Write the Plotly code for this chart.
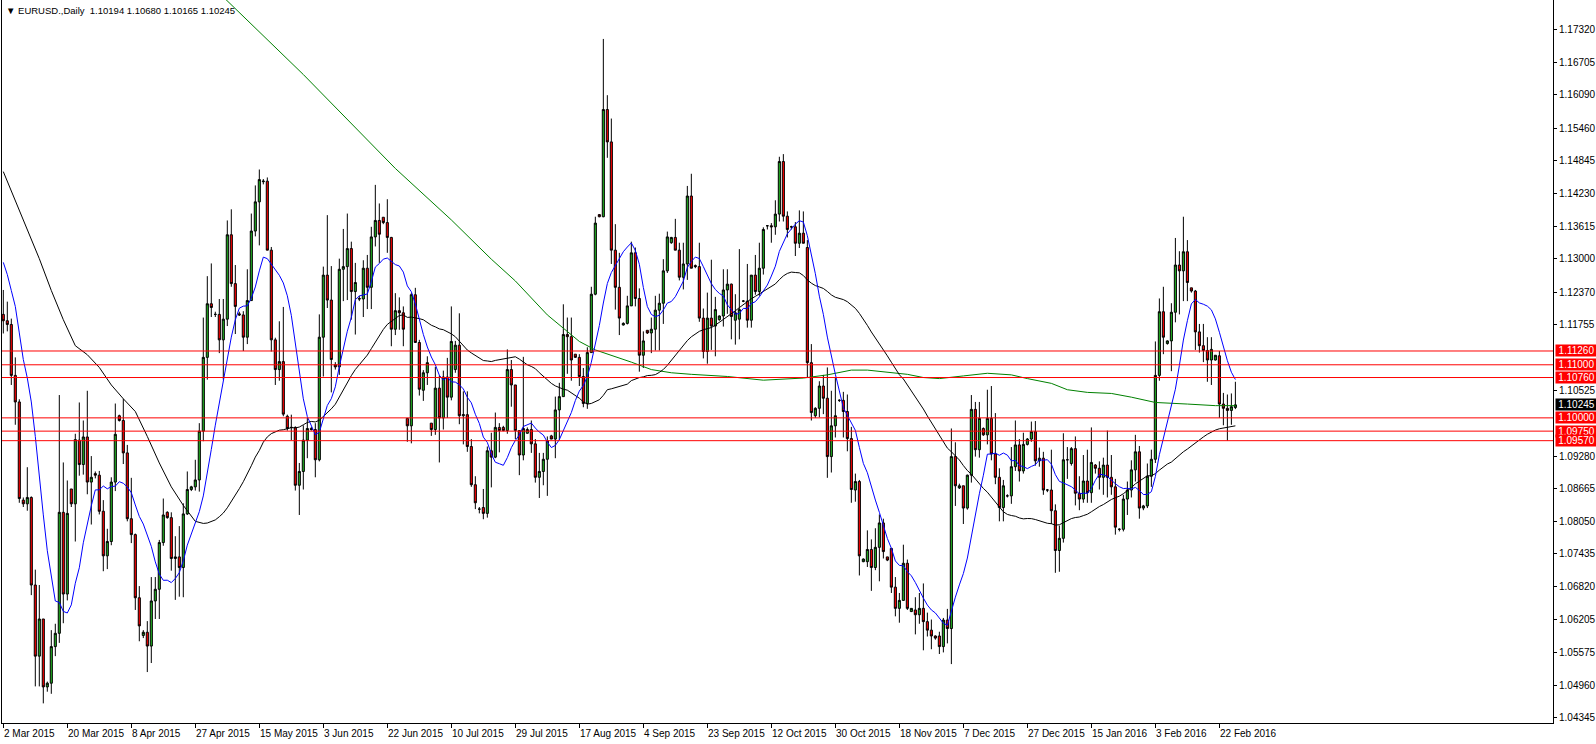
import plotly.graph_objects as go
import pandas as pd

# ---------------- data (EURUSD daily, bar index 0 = 2 Mar 2015) ----------------
opens = [
    1.1195, 1.1183, 1.1176, 1.1080, 1.1030, 1.0845, 1.0838, 1.0850, 1.0685, 1.0551,
    1.0621, 1.0493, 1.0500, 1.0569, 1.0594, 1.0822, 1.0668, 1.0866, 1.0838, 1.0958,
    1.0912, 1.0964, 1.0879, 1.0895, 1.0892, 1.0824, 1.0740, 1.0767, 1.0879, 1.1004,
    1.0995, 1.0934, 1.0810, 1.0780, 1.0661, 1.0590, 1.0596, 1.0570, 1.0655, 1.0677,
    1.0765, 1.0822, 1.0812, 1.0735, 1.0738, 1.0718, 1.0819, 1.0865, 1.0870, 1.0883,
    1.0975, 1.1114, 1.1215, 1.1195, 1.1195, 1.1147, 1.1186, 1.1345, 1.1253, 1.1196,
    1.1194, 1.1152, 1.1221, 1.1352, 1.1407, 1.1445, 1.1446, 1.1316, 1.1147, 1.1091,
    1.1106, 1.1003, 1.0982, 1.0982, 1.0873, 1.0899, 1.0958, 1.0980, 1.0978, 1.0921,
    1.1152, 1.1269, 1.1222, 1.1100, 1.1096, 1.1280, 1.1285, 1.1319, 1.1238, 1.1225,
    1.1224, 1.1282, 1.1246, 1.1341, 1.1372, 1.1378, 1.1368, 1.1340, 1.1167, 1.1202,
    1.1198, 1.0999, 1.0985, 1.1232, 1.1142, 1.1052, 1.1085, 1.0990, 1.0978, 1.1056,
    1.1000, 1.1077, 1.1039, 1.1091, 1.1137, 1.1004, 1.1006, 1.0946, 1.0874, 1.0828,
    1.0831, 1.0820, 1.0938, 1.0926, 1.0982, 1.0982, 1.0976, 1.1091, 1.1062, 1.0976,
    1.0930, 1.0971, 1.0978, 1.0951, 1.0888, 1.0899, 1.0922, 1.0966, 1.0960, 1.1015,
    1.1040, 1.1157, 1.1153, 1.1120, 1.1114, 1.1078, 1.1027, 1.1123, 1.1233, 1.1383,
    1.1379, 1.1581, 1.1520, 1.1316, 1.1246, 1.1175, 1.1178, 1.1211, 1.1311, 1.1225,
    1.1118, 1.1165, 1.1160, 1.1167, 1.1203, 1.1216, 1.1277, 1.1330, 1.1340, 1.1316,
    1.1265, 1.1290, 1.1418, 1.1287, 1.1285, 1.1188, 1.1125, 1.1188, 1.1173, 1.1185,
    1.1192, 1.1241, 1.1252, 1.1184, 1.1186, 1.1220, 1.1220, 1.1184, 1.1269, 1.1238,
    1.1282, 1.1362, 1.1362, 1.1360, 1.1384, 1.1483, 1.1380, 1.1360, 1.1360, 1.1329,
    1.1348, 1.1321, 1.1104, 1.1004, 1.1018, 1.1060, 1.1037, 1.0927, 1.0985, 1.1033,
    1.1033, 1.1012, 1.0961, 1.0864, 1.0880, 1.0729, 1.0729, 1.0752, 1.0718, 1.0756,
    1.0802, 1.0738, 1.0754, 1.0681, 1.0641, 1.0656, 1.0726, 1.0635, 1.0638, 1.0629,
    1.0641, 1.0616, 1.0600, 1.0589, 1.0589, 1.0569, 1.0619, 1.0603, 1.0927, 1.0868,
    1.0872, 1.0830, 1.0892, 1.1016, 1.0940, 1.0980, 1.0968, 1.0999, 1.0932, 1.0888,
    1.0831, 1.0853, 1.0853, 1.0908, 1.0949, 1.0900, 1.0950, 1.0960, 1.0974, 1.0919,
    1.0924, 1.0864, 1.0864, 1.0825, 1.0750, 1.0773, 1.0921, 1.0914, 1.0942, 1.0858,
    1.0847, 1.0881, 1.0859, 1.0911, 1.0905, 1.0888, 1.0911, 1.0888, 1.0870, 1.0790,
    1.0790, 1.0847, 1.0864, 1.0902, 1.0936, 1.0830, 1.0834, 1.0890, 1.0922, 1.1080,
    1.1200, 1.1140, 1.1145, 1.1199, 1.1288, 1.1277, 1.1313, 1.1245, 1.1239, 1.1162,
    1.1136, 1.1127, 1.1109, 1.1109, 1.1117, 1.1026, 1.1018, 1.1014, 1.10194,
]
highs = [
    1.1241, 1.1219, 1.1187, 1.1114, 1.1035, 1.0850, 1.0907, 1.0852, 1.0714, 1.0685,
    1.0621, 1.0503, 1.0600, 1.0612, 1.1043, 1.0916, 1.0882, 1.0866, 1.0970, 1.1029,
    1.0995, 1.1051, 1.0928, 1.0899, 1.0900, 1.0845, 1.0791, 1.0888, 1.1027, 1.1006,
    1.1036, 1.0949, 1.0887, 1.0782, 1.0683, 1.0600, 1.0617, 1.0700, 1.0700, 1.0770,
    1.0848, 1.0824, 1.0822, 1.0777, 1.0796, 1.0839, 1.0899, 1.0872, 1.0921, 1.0990,
    1.1189, 1.1267, 1.1291, 1.1200, 1.1224, 1.1224, 1.1372, 1.1393, 1.1288, 1.1200,
    1.1201, 1.1280, 1.1385, 1.1438, 1.1468, 1.1450, 1.1453, 1.1322, 1.1151, 1.1182,
    1.1209, 1.1006, 1.1006, 1.0984, 1.0915, 1.0986, 1.1000, 1.0983, 1.0990, 1.1195,
    1.1285, 1.1382, 1.1286, 1.1105, 1.1300, 1.1356, 1.1385, 1.1332, 1.1292, 1.1230,
    1.1297, 1.1307, 1.1360, 1.1439, 1.1404, 1.1378, 1.1412, 1.1341, 1.1235, 1.1227,
    1.1210, 1.0999, 1.1235, 1.1245, 1.1147, 1.1090, 1.1116, 1.0990, 1.1096, 1.1080,
    1.1089, 1.1113, 1.1210, 1.1145, 1.1197, 1.1050, 1.1050, 1.0960, 1.0890, 1.0832,
    1.0866, 1.0946, 1.0972, 1.1010, 1.0990, 1.0985, 1.1129, 1.1109, 1.1062, 1.0976,
    1.1115, 1.0982, 1.0995, 1.0960, 1.0934, 1.0934, 1.0965, 1.0968, 1.1040, 1.1066,
    1.1214, 1.1189, 1.1189, 1.1120, 1.1120, 1.1094, 1.1133, 1.1247, 1.1379, 1.1384,
    1.1714, 1.1608, 1.1564, 1.1365, 1.1311, 1.1180, 1.1230, 1.1332, 1.1321, 1.1244,
    1.1163, 1.1165, 1.1189, 1.1230, 1.1234, 1.1299, 1.1351, 1.1341, 1.1375, 1.1330,
    1.1330, 1.1437, 1.1460, 1.1289, 1.1330, 1.1206, 1.1236, 1.1298, 1.1228, 1.1193,
    1.1280, 1.1280, 1.1253, 1.1233, 1.1318, 1.1222, 1.1290, 1.1269, 1.1307, 1.1330,
    1.1359, 1.1363, 1.1367, 1.1410, 1.1492, 1.1497, 1.1389, 1.1362, 1.1369, 1.1391,
    1.1389, 1.1335, 1.1139, 1.1020, 1.1069, 1.1081, 1.1095, 1.1051, 1.1075, 1.1035,
    1.1049, 1.1044, 1.0983, 1.0895, 1.0883, 1.0735, 1.0788, 1.0771, 1.0792, 1.0818,
    1.0810, 1.0738, 1.0754, 1.0700, 1.0670, 1.0761, 1.0733, 1.0641, 1.0662, 1.0670,
    1.0688, 1.0633, 1.0620, 1.0590, 1.0597, 1.0623, 1.0640, 1.0980, 1.0954, 1.0876,
    1.0872, 1.0893, 1.1043, 1.1030, 1.1030, 1.0982, 1.1053, 1.1060, 1.1009, 1.0905,
    1.0883, 1.0856, 1.0945, 1.0995, 1.0960, 1.0972, 1.0962, 1.0993, 1.0994, 1.0944,
    1.0936, 1.0866, 1.0940, 1.0837, 1.0797, 1.0971, 1.0945, 1.0945, 1.0965, 1.0890,
    1.0930, 1.0940, 1.0982, 1.0913, 1.0918, 1.0925, 1.0976, 1.0930, 1.0885, 1.0792,
    1.0855, 1.0880, 1.0920, 1.0968, 1.0947, 1.0836, 1.0914, 1.0940, 1.1144, 1.1225,
    1.1247, 1.1146, 1.1216, 1.1339, 1.1314, 1.1379, 1.1335, 1.1245, 1.1241, 1.1177,
    1.1177, 1.1152, 1.1152, 1.1118, 1.1126, 1.1047, 1.1044, 1.1046, 1.10680,
]
lows = [
    1.1159, 1.1163, 1.1062, 1.0987, 1.0840, 1.0832, 1.0825, 1.0666, 1.0494, 1.0494,
    1.0462, 1.0484, 1.0480, 1.0551, 1.0576, 1.0613, 1.0656, 1.0832, 1.0767, 1.0891,
    1.0893, 1.0856, 1.0799, 1.0886, 1.0818, 1.0711, 1.0715, 1.0760, 1.0862, 1.0993,
    1.0913, 1.0805, 1.0764, 1.0638, 1.0579, 1.0585, 1.0521, 1.0538, 1.0621, 1.0621,
    1.0759, 1.0810, 1.0712, 1.0657, 1.0663, 1.0662, 1.0817, 1.0862, 1.0863, 1.0861,
    1.0956, 1.1072, 1.1190, 1.1190, 1.1122, 1.1072, 1.1173, 1.1247, 1.1158, 1.1192,
    1.1126, 1.1139, 1.1221, 1.1342, 1.1325, 1.1440, 1.1316, 1.1125, 1.1062, 1.1070,
    1.1003, 1.0976, 1.0958, 1.0863, 1.0817, 1.0865, 1.0924, 1.0976, 1.0888, 1.0918,
    1.1078, 1.1207, 1.1048, 1.1091, 1.1081, 1.1220, 1.1222, 1.1185, 1.1157, 1.1220,
    1.1190, 1.1205, 1.1205, 1.1323, 1.1292, 1.1365, 1.1311, 1.1135, 1.1156, 1.1166,
    1.1135, 1.0955, 1.0952, 1.1142, 1.1042, 1.1032, 1.1062, 1.0966, 1.0968, 1.0916,
    1.0978, 1.1000, 1.1033, 1.1085, 1.0988, 1.0950, 1.0936, 1.0870, 1.0828, 1.0820,
    1.0809, 1.0812, 1.0869, 1.0924, 1.0935, 1.0975, 1.0970, 1.1021, 1.0960, 1.0892,
    1.0920, 1.0970, 1.0934, 1.0878, 1.0849, 1.0873, 1.0853, 1.0960, 1.0924, 1.0958,
    1.1040, 1.1083, 1.1070, 1.1113, 1.1060, 1.1020, 1.1017, 1.1123, 1.1231, 1.1378,
    1.1378, 1.1490, 1.1290, 1.1204, 1.1156, 1.1174, 1.1176, 1.1211, 1.1210, 1.1087,
    1.1094, 1.1158, 1.1122, 1.1127, 1.1127, 1.1177, 1.1273, 1.1328, 1.1316, 1.1259,
    1.1242, 1.1260, 1.1282, 1.1282, 1.1181, 1.1112, 1.1102, 1.1128, 1.1116, 1.1183,
    1.1172, 1.1196, 1.1148, 1.1138, 1.1148, 1.1218, 1.1170, 1.1170, 1.1232, 1.1230,
    1.1270, 1.1355, 1.1330, 1.1345, 1.1370, 1.1370, 1.1340, 1.1355, 1.1305, 1.1320,
    1.1329, 1.1075, 1.0995, 1.1000, 1.1001, 1.1007, 1.0887, 1.0897, 1.0963, 1.1030,
    1.0963, 1.0937, 1.0840, 1.0842, 1.0703, 1.0728, 1.0719, 1.0674, 1.0713, 1.0692,
    1.0735, 1.0730, 1.0670, 1.0626, 1.0614, 1.0656, 1.0638, 1.0634, 1.0592, 1.0612,
    1.0562, 1.0588, 1.0564, 1.0582, 1.0555, 1.0558, 1.0575, 1.0536, 1.0834, 1.0866,
    1.0800, 1.0827, 1.0878, 1.0927, 1.0925, 1.0966, 1.0950, 1.0920, 1.0875, 1.0805,
    1.0805, 1.0850, 1.0838, 1.0900, 1.0880, 1.0895, 1.0948, 1.0955, 1.0910, 1.0908,
    1.0855, 1.0860, 1.0800, 1.0708, 1.0710, 1.0765, 1.0885, 1.0910, 1.0835, 1.0826,
    1.0840, 1.0840, 1.0840, 1.0895, 1.0865, 1.0855, 1.0850, 1.0855, 1.0780, 1.0786,
    1.0786, 1.0817, 1.0850, 1.0880, 1.0810, 1.0826, 1.0830, 1.0870, 1.0915, 1.1070,
    1.1120, 1.1138, 1.1088, 1.1180, 1.1195, 1.1220, 1.1220, 1.1236, 1.1128, 1.1123,
    1.1105, 1.1068, 1.1062, 1.1108, 1.1000, 1.0986, 1.0957, 1.0987, 1.10165,
]
closes = [
    1.1183, 1.1176, 1.1080, 1.1030, 1.0848, 1.0838, 1.0850, 1.0685, 1.0551, 1.0621,
    1.0493, 1.0500, 1.0569, 1.0594, 1.0822, 1.0668, 1.0820, 1.0838, 1.0959, 1.0912,
    1.0964, 1.0879, 1.0888, 1.0892, 1.0824, 1.0740, 1.0767, 1.0879, 1.0969, 1.0995,
    1.0934, 1.0810, 1.0780, 1.0661, 1.0608, 1.0596, 1.0570, 1.0655, 1.0677, 1.0765,
    1.0817, 1.0812, 1.0735, 1.0738, 1.0718, 1.0819, 1.0865, 1.0870, 1.0883, 1.0975,
    1.1114, 1.1215, 1.1208, 1.1195, 1.1147, 1.1186, 1.1345, 1.1253, 1.1210, 1.1194,
    1.1152, 1.1221, 1.1352, 1.1407, 1.1449, 1.1446, 1.1316, 1.1147, 1.1091, 1.1106,
    1.1007, 1.0980, 1.0982, 1.0873, 1.0899, 1.0958, 1.0980, 1.0978, 1.0921, 1.1152,
    1.1269, 1.1222, 1.1110, 1.1096, 1.1280, 1.1285, 1.1319, 1.1238, 1.1255, 1.1224,
    1.1282, 1.1246, 1.1341, 1.1372, 1.1346, 1.1368, 1.1340, 1.1167, 1.1202, 1.1198,
    1.1167, 1.0985, 1.1232, 1.1142, 1.1054, 1.1085, 1.1104, 1.0978, 1.1056, 1.1000,
    1.1077, 1.1039, 1.1144, 1.1137, 1.1004, 1.1006, 1.0946, 1.0874, 1.0840, 1.0828,
    1.0820, 1.0938, 1.0926, 1.0982, 1.0976, 1.0976, 1.1091, 1.1062, 1.0976, 1.0930,
    1.0980, 1.0978, 1.0951, 1.0888, 1.0899, 1.0922, 1.0957, 1.0960, 1.1015, 1.1040,
    1.1157, 1.1153, 1.1109, 1.1114, 1.1078, 1.1027, 1.1123, 1.1233, 1.1367, 1.1379,
    1.1581, 1.1520, 1.1316, 1.1246, 1.1188, 1.1178, 1.1211, 1.1311, 1.1225, 1.1118,
    1.1145, 1.1160, 1.1167, 1.1203, 1.1216, 1.1277, 1.1341, 1.1340, 1.1316, 1.1265,
    1.1290, 1.1418, 1.1282, 1.1285, 1.1188, 1.1125, 1.1188, 1.1173, 1.1204, 1.1192,
    1.1241, 1.1252, 1.1191, 1.1198, 1.1204, 1.1220, 1.1184, 1.1269, 1.1238, 1.1282,
    1.1355, 1.1362, 1.1360, 1.1384, 1.1483, 1.1380, 1.1355, 1.1360, 1.1329, 1.1348,
    1.1329, 1.1104, 1.1010, 1.1018, 1.1060, 1.1037, 1.0927, 1.0985, 1.1004, 1.1033,
    1.1012, 1.0961, 1.0865, 1.0880, 1.0740, 1.0734, 1.0752, 1.0718, 1.0756, 1.0802,
    1.0748, 1.0732, 1.0681, 1.0641, 1.0656, 1.0726, 1.0641, 1.0641, 1.0629, 1.0641,
    1.0616, 1.0600, 1.0589, 1.0585, 1.0569, 1.0619, 1.0603, 1.0927, 1.0872, 1.0872,
    1.0830, 1.0892, 1.1016, 1.0940, 1.0999, 1.0968, 1.0999, 1.0932, 1.0888, 1.0831,
    1.0872, 1.0853, 1.0908, 1.0949, 1.0900, 1.0950, 1.0960, 1.0974, 1.0919, 1.0924,
    1.0864, 1.0864, 1.0825, 1.0750, 1.0773, 1.0921, 1.0921, 1.0942, 1.0858, 1.0847,
    1.0881, 1.0859, 1.0916, 1.0905, 1.0888, 1.0911, 1.0888, 1.0870, 1.0794, 1.0790,
    1.0847, 1.0864, 1.0902, 1.0936, 1.0830, 1.0834, 1.0890, 1.0922, 1.1080, 1.1200,
    1.1152, 1.1145, 1.1199, 1.1288, 1.1277, 1.1313, 1.1255, 1.1239, 1.1162, 1.1136,
    1.1127, 1.1109, 1.1129, 1.1118, 1.1026, 1.1018, 1.1014, 1.1021, 1.10245,
]

# x-axis date labels (one every 16 bars)
date_labels = ["2 Mar 2015", "20 Mar 2015", "8 Apr 2015", "27 Apr 2015", "15 May 2015",
               "3 Jun 2015", "22 Jun 2015", "10 Jul 2015", "29 Jul 2015", "17 Aug 2015",
               "4 Sep 2015", "23 Sep 2015", "12 Oct 2015", "30 Oct 2015", "18 Nov 2015",
               "7 Dec 2015", "27 Dec 2015", "15 Jan 2016", "3 Feb 2016", "22 Feb 2016"]

# price-axis tick values (the ones not hidden behind the level labels)
price_ticks = [1.17320, 1.16705, 1.16090, 1.15460, 1.14845, 1.14230, 1.13615, 1.13000,
               1.12370, 1.11755, 1.10525, 1.09280, 1.08665, 1.08050,
               1.07435, 1.06820, 1.06205, 1.05575, 1.04960, 1.04345]

# horizontal support / resistance levels
levels = [1.11260, 1.11000, 1.10760, 1.10000, 1.09750, 1.09570]

# moving-average warm-up values (before enough bars exist)
blue_head = [1.1293, 1.1270, 1.1240, 1.1210, 1.1160, 1.1110, 1.1075, 1.1030, 1.0965]
black_head_x = [0, 3, 6, 9, 12, 15, 18, 21, 24, 27, 30, 33, 36, 39, 42, 45, 48]
black_head_y = [1.1464, 1.1410, 1.1357, 1.1300, 1.1240, 1.1185, 1.1136, 1.1119, 1.1095,
                1.1062, 1.1036, 1.1012, 1.0965, 1.0915, 1.0870, 1.0835, 1.0805]
# 200-period MA
green_x = [55, 75, 98, 112, 122, 128, 136, 140, 144, 148, 152, 157, 162, 167, 172, 181, 190,
           195, 200, 206, 212, 216, 221, 226, 230, 234, 240, 246, 252, 256, 262, 266, 271,
           277, 282, 288, 296, 303, 308]
green_y = [1.1793, 1.1647, 1.1470, 1.1373, 1.1299, 1.1258, 1.1194, 1.1169, 1.1144, 1.1128,
           1.1118, 1.1105, 1.1091, 1.1085, 1.1082, 1.1078, 1.1071, 1.1073, 1.1075, 1.1081,
           1.1090, 1.1090, 1.1086, 1.1082, 1.1076, 1.1074, 1.1079, 1.1084, 1.1081, 1.1074,
           1.1065, 1.1053, 1.1048, 1.1046, 1.1039, 1.1029, 1.1026, 1.1023, 1.1023]

# -------------------------------------------------------------------------------
n = len(closes)
assert len(opens) == n and len(highs) == n and len(lows) == n
xs = list(range(n))

cs = pd.Series(closes)
sma10 = cs.rolling(10).mean()
sma50 = cs.rolling(50).mean()
blue_y = blue_head + [float(v) for v in sma10.iloc[len(blue_head):]]
black_x = black_head_x + list(range(49, n))
black_y = black_head_y + [float(v) for v in sma50.iloc[49:]]

FONT = "Liberation Sans, Arial, DejaVu Sans, sans-serif"

fig = go.Figure()
fig.add_trace(go.Candlestick(
    x=xs, open=opens, high=highs, low=lows, close=closes,
    increasing=dict(line=dict(color="black", width=1), fillcolor="#22B022"),
    decreasing=dict(line=dict(color="black", width=1), fillcolor="#FF0000"),
    whiskerwidth=0, hoverinfo="skip", showlegend=False))
fig.add_trace(go.Scatter(x=green_x, y=green_y, mode="lines",
                         line=dict(color="#008000", width=1), showlegend=False, hoverinfo="skip"))
fig.add_trace(go.Scatter(x=black_x, y=black_y, mode="lines",
                         line=dict(color="#000000", width=1), showlegend=False, hoverinfo="skip"))
fig.add_trace(go.Scatter(x=xs, y=blue_y, mode="lines",
                         line=dict(color="#0000FF", width=1), showlegend=False, hoverinfo="skip"))

shapes = []
for lv in levels:
    shapes.append(dict(type="line", xref="paper", x0=0, x1=1, yref="y", y0=lv, y1=lv,
                       line=dict(color="#FF0000", width=1), layer="above"))

annotations = []
# price labels on the right axis
for lv in levels:
    annotations.append(dict(xref="paper", x=1, xanchor="left", xshift=2, yref="y", y=lv,
                            yanchor="middle", text=f"{lv:.5f}", showarrow=False,
                            font=dict(family=FONT, size=10, color="white"),
                            bgcolor="#FF0000", width=41, height=11, borderpad=0, align="center"))
annotations.append(dict(xref="paper", x=1, xanchor="left", xshift=2, yref="y", y=closes[-1],
                        yanchor="middle", text=f"{closes[-1]:.5f}", showarrow=False,
                        font=dict(family=FONT, size=10, color="white"),
                        bgcolor="#000000", width=41, height=11, borderpad=0, align="center"))
# date labels, left aligned at their tick
for k, lab in enumerate(date_labels):
    annotations.append(dict(xref="x", x=16 * k, xanchor="left", xshift=-1, yref="paper", y=0,
                            yanchor="top", yshift=-3, text=lab, showarrow=False,
                            font=dict(family=FONT, size=10, color="black")))
# header
annotations.append(dict(xref="paper", x=0, xanchor="left", xshift=2, yref="paper", y=1,
                        yanchor="top", yshift=-3,
                        text="\u25bc EURUSD.,Daily  %.5f %.5f %.5f %.5f" % (opens[-1], highs[-1], lows[-1], closes[-1]),
                        showarrow=False, font=dict(family=FONT, size=9.5, color="black")))

fig.update_layout(
    width=1596, height=744,
    margin=dict(l=2, r=43, t=0, b=21, pad=0),
    paper_bgcolor="white", plot_bgcolor="white",
    showlegend=False, boxgap=0.25,
    shapes=shapes, annotations=annotations,
    xaxis=dict(range=[-0.325, 387.4], showgrid=False, zeroline=False,
               showline=True, linecolor="black", linewidth=1,
               ticks="outside", ticklen=4, tickcolor="black",
               tickvals=[16 * k for k in range(len(date_labels))],
               showticklabels=False, rangeslider=dict(visible=False), fixedrange=True),
    yaxis=dict(range=[1.04250, 1.17874], side="right", showgrid=False, zeroline=False,
               showline=True, linecolor="black", linewidth=1, mirror=True,
               ticks="outside", ticklen=3, tickcolor="black",
               tickvals=price_ticks, ticktext=[f"{v:.5f}" for v in price_ticks],
               tickfont=dict(family=FONT, size=10, color="black"), fixedrange=True),
)

fig.write_html("out.html", config={"displayModeBar": False},
               post_script="document.body.style.margin='0';document.body.style.overflow='hidden';")
